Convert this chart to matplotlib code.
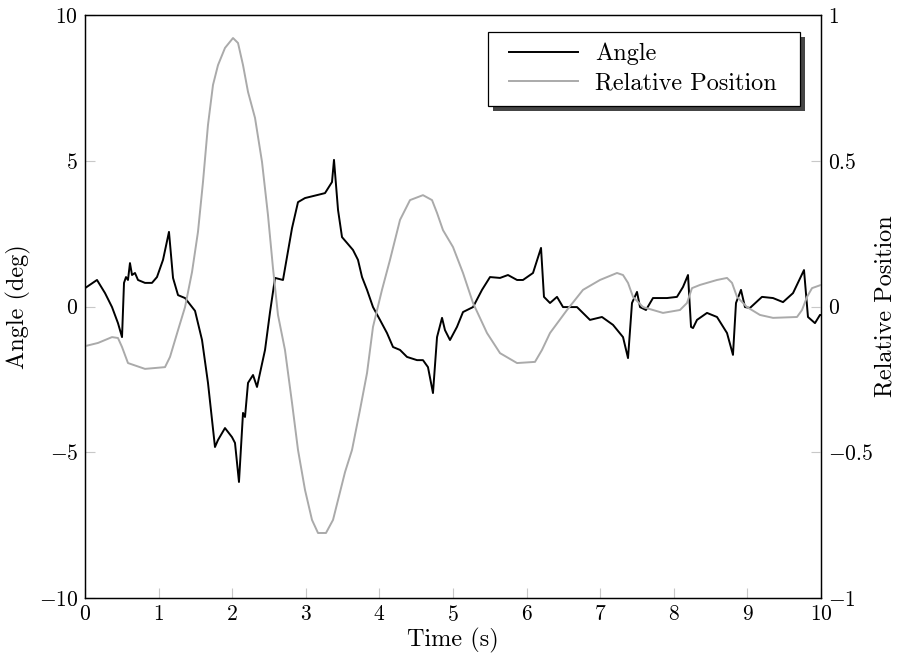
import matplotlib
matplotlib.use("Agg")
import matplotlib.pyplot as plt
from matplotlib.patches import Rectangle
from matplotlib.ticker import FuncFormatter
from matplotlib.transforms import IdentityTransform

plt.rcParams['font.family'] = 'serif'
plt.rcParams['font.serif'] = ['cmr10']
plt.rcParams['mathtext.fontset'] = 'cm'
plt.rcParams['axes.formatter.use_mathtext'] = True

# angle (deg)
t_angle = [0, 0.163, 0.272, 0.367, 0.448, 0.503, 0.530, 0.557, 0.584, 0.611, 0.639, 0.679, 0.720,
           0.815, 0.910, 0.978, 1.060, 1.141, 1.196, 1.264, 1.359, 1.495, 1.590, 1.671, 1.766,
           1.807, 1.902, 1.997, 2.038, 2.092, 2.147, 2.174, 2.215, 2.283, 2.337, 2.378, 2.446,
           2.514, 2.582, 2.690, 2.813, 2.894, 2.989, 3.166, 3.261, 3.356, 3.383, 3.438, 3.492,
           3.560, 3.641, 3.709, 3.764, 3.832, 3.913, 4.008, 4.103, 4.185, 4.280, 4.375, 4.511,
           4.592, 4.660, 4.728, 4.783, 4.851, 4.891, 4.959, 5.054, 5.136, 5.272, 5.394, 5.503,
           5.639, 5.747, 5.870, 5.951, 6.087, 6.196, 6.236, 6.318, 6.413, 6.495, 6.685, 6.861,
           7.024, 7.174, 7.310, 7.378, 7.432, 7.500, 7.541, 7.622, 7.717, 7.908, 8.043, 8.125,
           8.193, 8.234, 8.261, 8.315, 8.451, 8.587, 8.723, 8.804, 8.845, 8.913, 8.967, 9.035,
           9.198, 9.348, 9.484, 9.620, 9.769, 9.823, 9.918, 9.986, 10.0]
angle = [0.63, 0.91, 0.46, -0.02, -0.57, -1.05, 0.81, 1.01, 0.91, 1.49, 1.08, 1.15, 0.91,
         0.81, 0.81, 1.01, 1.60, 2.56, 0.98, 0.39, 0.29, -0.15, -1.15, -2.62, -4.82,
         -4.58, -4.17, -4.48, -4.68, -6.02, -3.65, -3.79, -2.62, -2.35, -2.76, -2.28, -1.49,
         -0.19, 0.98, 0.91, 2.69, 3.58, 3.72, 3.83, 3.89, 4.27, 5.03, 3.31, 2.38,
         2.18, 1.94, 1.60, 1.01, 0.57, -0.02, -0.46, -0.91, -1.39, -1.49, -1.73, -1.84,
         -1.84, -2.08, -2.97, -1.05, -0.39, -0.81, -1.15, -0.70, -0.19, -0.02, 0.57, 1.01,
         0.98, 1.08, 0.91, 0.91, 1.15, 2.01, 0.33, 0.12, 0.33, -0.02, -0.02, -0.46,
         -0.36, -0.63, -1.05, -1.77, 0.12, 0.50, -0.02, -0.12, 0.29, 0.29, 0.33, 0.67,
         1.08, -0.70, -0.74, -0.46, -0.22, -0.36, -0.91, -1.66, 0.12, 0.57, -0.02, -0.05,
         0.33, 0.29, 0.15, 0.46, 1.25, -0.36, -0.57, -0.29, -0.29]

# relative position
t_pos = [0, 0.177, 0.367, 0.448, 0.503, 0.584, 0.815, 1.087, 1.155, 1.264, 1.359, 1.454, 1.535,
         1.603, 1.671, 1.739, 1.807, 1.902, 2.011, 2.079, 2.147, 2.215, 2.310, 2.405, 2.486,
         2.554, 2.622, 2.717, 2.813, 2.894, 2.989, 3.084, 3.166, 3.274, 3.370, 3.533, 3.628,
         3.736, 3.832, 3.913, 4.035, 4.144, 4.280, 4.416, 4.592, 4.715, 4.783, 4.864, 5.000,
         5.136, 5.272, 5.462, 5.639, 5.870, 6.114, 6.209, 6.318, 6.549, 6.766, 6.997, 7.228,
         7.310, 7.378, 7.446, 7.582, 7.717, 7.853, 8.084, 8.179, 8.247, 8.356, 8.587, 8.723,
         8.791, 8.859, 8.995, 9.171, 9.348, 9.674, 9.742, 9.810, 9.878, 10.0]
rel_pos = [-0.136, -0.125, -0.105, -0.108, -0.139, -0.194, -0.214, -0.208, -0.173, -0.081, -0.002,
           0.118, 0.256, 0.427, 0.623, 0.760, 0.828, 0.887, 0.921, 0.904, 0.828, 0.736, 0.647,
           0.496, 0.314, 0.132, -0.029, -0.149, -0.331, -0.492, -0.629, -0.732, -0.777, -0.777,
           -0.732, -0.568, -0.492, -0.355, -0.228, -0.070, 0.057, 0.160, 0.297, 0.365, 0.382,
           0.365, 0.321, 0.262, 0.204, 0.115, 0.012, -0.091, -0.160, -0.194, -0.190, -0.149,
           -0.091, -0.012, 0.057, 0.091, 0.115, 0.108, 0.081, 0.033, -0.002, -0.012, -0.022,
           -0.012, 0.012, 0.063, 0.074, 0.091, 0.098, 0.081, 0.033, -0.002, -0.029, -0.039,
           -0.036, -0.012, 0.033, 0.063, 0.074]

fmt = FuncFormatter(lambda v, p: r'$%g$' % v)
fs = 17.5

fig = plt.figure(figsize=(9, 6.55), dpi=100)
ax = fig.add_axes([85/900, 1-598/655, 736/900, 583/655])
ax2 = ax.twinx()

l1, = ax.plot(t_angle, angle, color='black', lw=1.4)
l2, = ax2.plot(t_pos, rel_pos, color='#aaaaaa', lw=1.4)

ax.set_xlim(0, 10)
ax.set_ylim(-10, 10)
ax2.set_ylim(-1, 1)
ax.set_xticks(range(0, 11))
ax.set_yticks([-10, -5, 0, 5, 10])
ax2.set_yticks([-1, -0.5, 0, 0.5, 1])
for a in (ax, ax2):
    a.xaxis.set_major_formatter(fmt)
    a.yaxis.set_major_formatter(fmt)
    a.tick_params(direction='in', length=7, width=0.8, color='#c8c8c8', labelsize=15.5, pad=5)
    for s in a.spines.values():
        s.set_linewidth(0.9)

ax.set_xlabel('Time (s)', fontsize=fs)
ax.xaxis.set_label_coords(0.5, -0.052)
ax.set_ylabel('Angle (deg)', fontsize=fs)
ax.yaxis.set_label_coords(-0.073, 0.5)
ax2.set_ylabel('Relative Position', fontsize=fs, rotation=90)
ax2.yaxis.set_label_coords(1.073, 0.5)

leg = ax2.legend([l1, l2], ['Angle', 'Relative Position'], loc='upper right',
                 bbox_to_anchor=((800 - 12 - 85) / 736, (598 - 32) / 583), frameon=False,
                 handlelength=2.85, handletextpad=0.72, borderpad=0.45, borderaxespad=0,
                 labelspacing=0.3, fontsize=fs)
leg.set_zorder(5)

fig.canvas.draw()
bb = leg.get_window_extent()
x0, y0, w, h = bb.x0 - 10, bb.y0, bb.width + 22, bb.height
ax2.add_patch(Rectangle((x0 + 5, y0 - 5), w, h, transform=IdentityTransform(),
                        facecolor='#454545', edgecolor='none', zorder=4.8, clip_on=False))
ax2.add_patch(Rectangle((x0, y0), w, h, transform=IdentityTransform(),
                        facecolor='white', edgecolor='black', lw=0.9, zorder=4.9, clip_on=False))

fig.savefig('out.png', dpi=100)
